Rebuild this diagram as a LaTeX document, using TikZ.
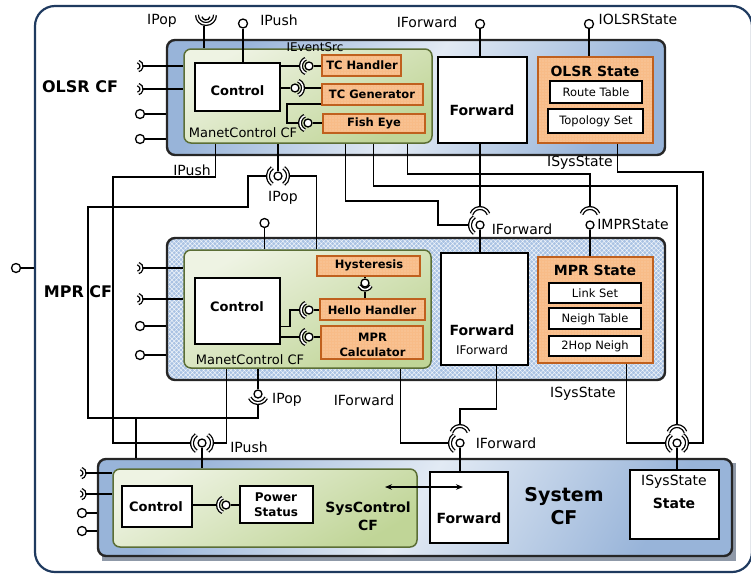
\documentclass[tikz,border=0pt]{standalone}
\usepackage{fontspec}
\setmainfont{DejaVu Sans}
\usetikzlibrary{patterns.meta,arrows.meta,fit}

\definecolor{frameblue}{HTML}{1F3A5F}
\definecolor{cfedge}{HTML}{262626}
\definecolor{cfdark}{HTML}{98B4D9}
\definecolor{cflight}{HTML}{E2EAF4}
\definecolor{hatchbg}{HTML}{A9C2E3}
\definecolor{mcdark}{HTML}{C0D597}
\definecolor{mclight}{HTML}{EEF3E3}
\definecolor{mcedge}{HTML}{5B6E35}
\definecolor{orfill}{HTML}{F8BC88}
\definecolor{oredge}{HTML}{C0601E}
\definecolor{shadowgray}{HTML}{8F99A8}

\tikzset{
  fs/.style={font=\fontsize{#1}{#1}\selectfont},
  bs/.style={font=\fontsize{#1}{#1}\selectfont\bfseries},
  txt/.style={inner sep=0pt, align=center},
  lbl/.style={txt, fs=14},
  conn/.style={line width=1.3pt},
  biarrow/.style={line width=1.3pt, {Stealth[length=7pt,width=5.5pt]}-{Stealth[length=7pt,width=5.5pt]}},
  ball/.style={circle, draw, line width=1.3pt, fill=white, minimum size=8pt, inner sep=0pt},
  pball/.style={ball, minimum size=9pt},
  sockline/.style={line width=1.3pt, double=white, double distance=1.5pt},
  outerframe/.style={draw=frameblue, line width=2.2pt, rounded corners=20pt, inner sep=0pt},
  cfbox/.style={draw=cfedge, line width=2.4pt, rounded corners=8pt, inner sep=0pt,
    top color=cfdark, bottom color=cfdark, middle color=cflight, shading angle=60},
  mpbox/.style={draw=cfedge, line width=2.4pt, rounded corners=8pt, inner sep=0pt,
    preaction={fill=hatchbg},
    preaction={pattern={Hatch[angle=45,distance=3.2pt,line width=0.5pt]}, pattern color=white!85!hatchbg}},
  mcbox/.style={draw=mcedge, line width=1.5pt, rounded corners=7pt, inner sep=0pt,
    top color=mclight, bottom color=mcdark, shading angle=30},
  wbox/.style={draw, line width=1.5pt, fill=white, inner sep=0pt},
  obox/.style={draw=oredge, line width=1.2pt, inner sep=0pt,
    preaction={fill=orfill},
    preaction={pattern={Dots[radius=0.45pt,distance=3pt]}, pattern color=white}},
  % interface bindings: a provided ball with one or more sockets round it
  pics/sockL/.style={code={
    \node[ball] (-b) at (0,0) {};
    \draw[sockline] (115:8) arc[start angle=115, end angle=245, radius=8];
    \coordinate (-w) at (-10.2,0);
  }},
  pics/sockR/.style={code={
    \node[ball] (-b) at (0,0) {};
    \draw[sockline] (-65:8) arc[start angle=-65, end angle=65, radius=8];
    \coordinate (-e) at (10.2,0);
  }},
  pics/sockLR/.style={code={
    \node[ball] (-b) at (0,0) {};
    \draw[sockline] (125:10) arc[start angle=125, end angle=235, radius=10];
    \draw[sockline] (-55:10) arc[start angle=-55, end angle=55, radius=10];
    \coordinate (-w) at (-12.2,0);
    \coordinate (-e) at (12.2,0);
  }},
  pics/sockT/.style={code={
    \node[ball] (-b) at (0,0) {};
    \draw[sockline] (0,-8) ++(200:9) arc[start angle=200, end angle=340, radius=9];
    \coordinate (-n) at (0,-19);
  }},
  pics/sockTL/.style={code={
    \pic {sockT};
    \draw[sockline] (125:10) arc[start angle=125, end angle=235, radius=10];
    \coordinate (-w) at (-12.2,0);
    \coordinate (-n) at (0,-19);
  }},
  pics/sockTLR/.style={code={
    \pic {sockT};
    \draw[sockline] (125:10) arc[start angle=125, end angle=235, radius=10];
    \draw[sockline] (-55:10) arc[start angle=-55, end angle=55, radius=10];
    \coordinate (-w) at (-12.2,0);
    \coordinate (-e) at (12.2,0);
    \coordinate (-n) at (0,-19);
  }},
  pics/cup/.style={code={
    \node[ball] (-b) at (0,0) {};
    \draw[sockline] (25:#1) arc[start angle=25, end angle=155, radius=#1];
    \coordinate (-s) at (0,#1+2.2);
  }},
  pics/portsock/.style={code={
    \draw[sockline] (-75:4.5) arc[start angle=-75, end angle=75, radius=4.5];
    \coordinate (-e) at (6.2,0);
  }},
}

\begin{document}
\begin{tikzpicture}[x=1pt,y=-1pt]
\useasboundingbox (0,0) rectangle (751,574);

% outer frame (its right side sits on the page edge) and its port
\begin{scope}
  \clip (0,0) rectangle (751,574);
  \node[outerframe, fit={(35,6)(752,572)}] (outer) {};
\end{scope}
\node[pball] (outport) at (16,268) {};
\draw[conn] (outport.east) -- (outport.east -| outer.west);

% ---------- component frameworks ----------
\fill[shadowgray] (102,463) rectangle (736,561);
\node[cfbox, fit={(167,40)(665,155)}] (olsr) {};
\node[mpbox, fit={(167,238)(665,380)}] (mpr) {};
\node[cfbox, fit={(98,459)(732,556)}] (sys) {};

\node[mcbox, fit={(184,49)(432,143)}] (ogreen) {};
\node[mcbox, fit={(184,250)(431,368)}] (mgreen) {};
\node[mcbox, fit={(113,469)(417,547)}] (sgreen) {};

% ---------- OLSR CF ----------
\node[wbox, fit={(195,63)(280,111)}] (octl) {};
\node[obox, fit={(322,55)(401,76)}] (tch) {};
\node[obox, fit={(322,84)(423,105)}] (tcg) {};
\node[obox, fit={(323,114)(425,133)}] (fisheye) {};
\node[wbox, fit={(438,57)(527,143)}] (ofwd) {};
\node[obox, fit={(538,57)(653,143)}] (ostate) {};
\node[wbox, fit={(550,81)(642,103)}] (rtab) {};
\node[wbox, fit={(548,109)(643,133)}] (topo) {};

\node[txt, bs=16] (tOlsr) at (80,87) {OLSR CF};
\node[txt, bs=13] (tOctl) at (237.5,91) {Control};
\node[txt, bs=11.5] (tTch) at (362,65) {TC Handler};
\node[txt, bs=11.5] (tTcg) at (372,94) {TC Generator};
\node[txt, bs=11.5] (tFe) at (374,123) {Fish Eye};
\node[txt, bs=14] (tOfwd) at (482,110) {Forward};
\node[txt, bs=14] (tOst) at (595,71) {OLSR State};
\node[txt, fs=11.5] (tRt) at (596,92.5) {Route Table};
\node[txt, fs=11.5] (tTopo) at (596,121.5) {Topology Set};
\node[txt, fs=13] (tOmc) at (243,133) {ManetControl CF};
\node[txt, fs=12] (tEvt) at (315,47) {IEventSrc};

% top interfaces
\draw[sockline] (206,15) ++(0:9) arc[start angle=0, end angle=180, radius=9];
\draw[line width=1.3pt] (206,16) ++(10:4) arc[start angle=10, end angle=170, radius=4];
\coordinate (oPopTop) at (204,26);
\draw[conn] (oPopTop) -- (oPopTop |- ogreen.north);
\node[pball] (oPush) at (243,23.5) {};
\draw[conn] (oPush.south) -- (oPush.south |- octl.north);
\node[pball] (oFwdBall) at (480,24) {};
\draw[conn] (oFwdBall.south) -- (oFwdBall.south |- ofwd.north);
\node[pball] (oStBall) at (589,24) {};
\draw[conn] (oStBall.south) -- (oStBall.south |- ostate.north);
\node[lbl] (lOPop) at (162,21) {IPop};
\node[lbl] (lOPush) at (279,20) {IPush};
\node[lbl] (lOFwd) at (427,22) {IForward};
\node[lbl] (lOSt) at (638,19) {IOLSRState};

% internal bindings
\pic (sTCH) at (309,66) {sockL};
\draw[conn] (octl.east |- sTCH-w) -- (sTCH-w);
\draw[conn] (sTCH-b.east) -- (sTCH-b.east -| tch.west);
\pic (sTCG) at (295,88) {sockR};
\draw[conn] (octl.east |- sTCG-b) -- (sTCG-b.west);
\draw[conn] (sTCG-e) -- (sTCG-e -| tcg.west);
\pic (sFE) at (308,123) {sockL};
\draw[conn] ([yshift=1.5pt]tcg.south west) -| (287,123) -- (sFE-w);
\draw[conn] (sFE-b.east) -- (sFE-b.east -| fisheye.west);

% side ports
\pic (op1) at (137,66) {portsock};
\draw[conn] (op1-e) -- (op1-e -| ogreen.west);
\pic (op2) at (137,89) {portsock};
\draw[conn] (op2-e) -- (op2-e -| ogreen.west);
\node[pball] (op3) at (140,114) {};
\draw[conn] (op3.east) -- (op3.east -| olsr.west);
\node[pball] (op4) at (140,139) {};
\draw[conn] (op4.east) -- (op4.east -| olsr.west);

% ---------- MPR CF ----------
\node[wbox, fit={(195,278)(280,344)}] (mctl) {};
\node[obox, fit={(317,256)(420,276)}] (hyst) {};
\node[obox, fit={(320,299)(425,320)}] (hello) {};
\node[obox, fit={(321,326)(423,359)}] (mcalc) {};
\node[wbox, fit={(441,253)(528,365)}] (mfwd) {};
\node[obox, fit={(538,257)(653,363)}] (mstate) {};
\node[wbox, fit={(549,283)(641,303)}] (lset) {};
\node[wbox, fit={(549,308)(641,329)}] (ntab) {};
\node[wbox, fit={(549,336)(641,356)}] (hop2) {};

\node[txt, bs=16] (tMpr) at (78,292) {MPR CF};
\node[txt, bs=13] (tMctl) at (237,307) {Control};
\node[txt, bs=11.5] (tHy) at (369,265) {Hysteresis};
\node[txt, bs=11.5] (tHh) at (372,310) {Hello Handler};
\node[txt, bs=11.5] (tMc) at (372.5,344.5) {MPR\\[3.5pt]Calculator};
\node[txt, bs=14] (tMfwd) at (482,330) {Forward};
\node[txt, fs=12] (tMfwdI) at (482,350) {IForward};
\node[txt, bs=14] (tMst) at (595,270) {MPR State};
\node[txt, fs=11.5] (tLs) at (595,293) {Link Set};
\node[txt, fs=11.5] (tNt) at (595,319) {Neigh Table};
\node[txt, fs=11.5] (tHn) at (595,346) {2Hop Neigh};
\node[txt, fs=13] (tMmc) at (250,360) {ManetControl CF};

\pic (sHy) at (365,283) {cup=6.5};
\draw[conn] (sHy-b.north) -- (sHy-b.north |- hyst.south);
\draw[conn] (sHy-s) -- (sHy-s |- hello.north);
\pic (sHH) at (309,310) {sockL};
\draw[conn] ([yshift=18pt]mctl.south east) -| (290,310) -- (sHH-w);
\draw[conn] (sHH-b.east) -- (sHH-b.east -| hello.west);
\pic (sMC) at (309,337) {sockL};
\draw[conn] (mctl.east |- sMC-w) -- (sMC-w);
\draw[conn] (sMC-b.east) -- (sMC-b.east -| mcalc.west);

\pic (mp1) at (137,268) {portsock};
\draw[conn] (mp1-e) -- (mp1-e -| mgreen.west);
\pic (mp2) at (137,299) {portsock};
\draw[conn] (mp2-e) -- (mp2-e -| mgreen.west);
\node[pball] (mp3) at (140,326) {};
\draw[conn] (mp3.east) -- (mp3.east -| mpr.west);
\node[pball] (mp4) at (140,355) {};
\draw[conn] (mp4.east) -- (mp4.east -| mpr.west);

\node[pball] (mPush) at (264.5,223) {};
\draw[conn] (mPush.south) -- (mPush.south |- mgreen.north);

% ---------- System CF ----------
\node[wbox, fit={(122,486)(192,527)}] (sctl) {};
\node[wbox, fit={(240,486)(313,523)}] (power) {};
\node[wbox, fit={(430,472)(508,543)}] (sfwd) {};
\node[wbox, fit={(630,470)(719,539)}] (sstate) {};

\node[txt, bs=13] (tSctl) at (156,507) {Control};
\node[txt, bs=12] (tPw) at (276,504.5) {Power\\[3pt]Status};
\node[txt, bs=14] (tSc) at (368,516) {SysControl\\[4pt]CF};
\node[txt, bs=14] (tSfwd) at (469,518) {Forward};
\node[txt, bs=19] (tSys) at (564,506.5) {System\\[4pt]CF};
\node[txt, fs=14] (tSsI) at (674,482) {ISysState};
\node[txt, bs=14] (tSs) at (674,503) {State};

\pic (sPw) at (226,505) {sockL};
\draw[conn] (sPw-w -| sctl.east) -- (sPw-w);
\draw[conn] (sPw-b.east) -- (sPw-b.east -| power.west);
\coordinate (arrL) at (385,487);
\coordinate (arrR) at (463,487);
\draw[biarrow] (arrL) -- (arrR);

\pic (sp1) at (80,473) {portsock};
\draw[conn] (sp1-e) -- (sp1-e -| sgreen.west);
\pic (sp2) at (80,494) {portsock};
\draw[conn] (sp2-e) -- (sp2-e -| sgreen.west);
\node[pball] (sp3) at (82,513) {};
\draw[conn] (sp3.east) -- (sp3.east -| sys.west);
\node[pball] (sp4) at (82,531) {};
\draw[conn] (sp4.east) -- (sp4.east -| sys.west);

% ---------- bindings between frameworks ----------
\pic (sIPop) at (278,176) {sockLR};
\pic (sMF) at (480,225) {sockTL};
\pic (sMS) at (590,225) {sockT};
\pic (sMPop) at (258,394) {cup=9};
\pic (sPush) at (202,443) {sockLR};
\pic (sSF) at (460,443) {sockTL};
\pic (sSS) at (677,443) {sockTLR};

\draw[conn] ([xshift=32pt]ogreen.south west) |- (113,177) |- (sPush-w);
\draw[conn] (sIPop-b.north) -- (sIPop-b.north |- ogreen.south);
\draw[conn] (sIPop-w) -| (248,207) -| (88,418) -| (sMPop-s);
\coordinate (popJoin) at (136,418);
\draw[conn] (popJoin) -- (popJoin |- sys.north);
\draw[conn] (sIPop-e) -| ([xshift=133pt]mgreen.north west);
\draw[conn] ([xshift=162pt]ogreen.south west) |- (438,201) |- (sMF-w);
\draw[conn] ([xshift=190pt]ogreen.south west) |- (677,186) -- (sSS-n);
\draw[conn] ([xshift=224pt]ogreen.south west) |- (590,174) -- (sMS-n);
\draw[conn] (sMF-n |- ofwd.south) -- (sMF-n);
\draw[conn] (sMF-b.south) -- (sMF-b.south |- mfwd.north);
\draw[conn] (sMS-b.south) -- (sMS-b.south |- mstate.north);
\draw[conn] ([xshift=80pt]ostate.south west) |- (703,172) |- (sSS-e);

\draw[conn] ([xshift=43pt]mgreen.south west) |- (sPush-e);
\draw[conn] (sMPop-b.north) -- (sMPop-b.north |- mgreen.south);
\draw[conn] ([xshift=217pt]mgreen.south west) |- (sSF-w);
\draw[conn] ([xshift=56pt]mfwd.south west) |- (460,409) -- (sSF-n);
\draw[conn] ([xshift=89pt]mstate.south west) |- (sSS-w);

\draw[conn] (sPush-b.south) -- (sPush-b.south |- sgreen.north);
\draw[conn] (sSF-b.south) -- (sSF-b.south |- sfwd.north);
\draw[conn] (sSS-b.south) -- (sSS-b.south |- sstate.north);

% interface labels between frameworks
\node[lbl] (lPushO) at (192,170) {IPush};
\node[lbl] (lPopO) at (283,198) {IPop};
\node[lbl] (lSsO) at (580,163) {ISysState};
\node[lbl] (lFwdM) at (522,229) {IForward};
\node[lbl] (lMst) at (633,224) {IMPRState};
\node[lbl] (lSsM) at (583,394) {ISysState};
\node[lbl] (lPopM) at (287,400) {IPop};
\node[lbl] (lFwdG) at (364,400) {IForward};
\node[lbl] (lPushS) at (249,447) {IPush};
\node[lbl] (lFwdS) at (506,443) {IForward};
\end{tikzpicture}
\end{document}
